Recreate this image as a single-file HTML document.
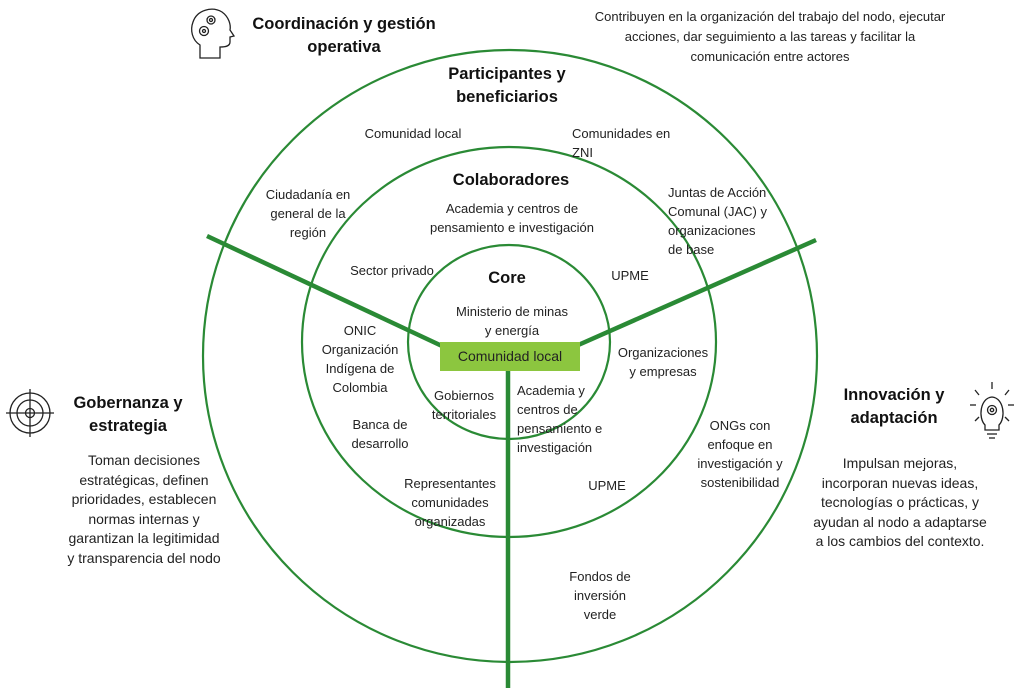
<!DOCTYPE html>
<html><head><meta charset="utf-8"><style>
body{margin:0;width:1024px;height:691px;background:#fff;position:relative;overflow:hidden;font-family:"Liberation Sans",sans-serif;color:#222}
.t{position:absolute;text-align:center;font-size:13px;line-height:19px;transform:translateX(-50%);white-space:nowrap}
.b{font-weight:bold;font-size:16.5px;line-height:23px;color:#111}
svg{position:absolute;left:0;top:0}
</style></head><body>
<svg width="1024" height="691">
<g fill="none" stroke="#2a8a35" stroke-width="2.2">
<ellipse cx="510" cy="356" rx="307" ry="306"/>
<ellipse cx="509" cy="342" rx="207" ry="195"/>
<ellipse cx="509" cy="342" rx="101" ry="97"/>
</g>
<g stroke="#2a8a35" stroke-width="4.5" fill="none">
<line x1="207" y1="236" x2="442" y2="346"/>
<line x1="816" y1="240" x2="576" y2="346"/>
<line x1="508" y1="356" x2="508" y2="688"/>
</g>
<rect x="440" y="342" width="140" height="29" fill="#8cc63f"/>
<g fill="none" stroke="#222" stroke-width="1.3">
<path d="M200 58 L200 45 C192 40 190 30 193 22 C197 10 212 6 222 12 C229 17 231 25 230 30 L234 36 L230 37 L230 42 C230 46 226 47 220 47 L220 58 Z"/>
<circle cx="211" cy="20" r="4"/><circle cx="211" cy="20" r="1.5"/>
<circle cx="204" cy="31" r="4.5"/><circle cx="204" cy="31" r="1.5"/>
</g>
<g fill="none" stroke="#222" stroke-width="1.3">
<circle cx="30" cy="413" r="20"/><circle cx="30" cy="413" r="13"/><circle cx="30" cy="413" r="4.5"/>
<line x1="30" y1="389" x2="30" y2="437"/><line x1="6" y1="413" x2="54" y2="413"/>
</g>
<g fill="none" stroke="#222" stroke-width="1.3">
<path d="M985 425 C978 418 980 398 992 397 C1004 398 1006 418 999 425 L999 430 L985 430 Z"/>
<line x1="987" y1="434" x2="997" y2="434"/><line x1="989" y1="438" x2="995" y2="438"/>
<circle cx="992" cy="410" r="4.5"/><circle cx="992" cy="410" r="1.7"/>
<line x1="992" y1="382" x2="992" y2="389"/><line x1="975" y1="390" x2="979" y2="395"/><line x1="1009" y1="390" x2="1005" y2="395"/>
<line x1="970" y1="405" x2="976" y2="405"/><line x1="1008" y1="405" x2="1014" y2="405"/>
<line x1="975" y1="421" x2="979" y2="417"/><line x1="1009" y1="421" x2="1005" y2="417"/>
</g>
</svg>
<div class="t b" style="left:344px;top:13px">Coordinación y gestión<br>operativa</div>
<div class="t" style="left:770px;top:7px;line-height:20px">Contribuyen en la organización del trabajo del nodo, ejecutar<br>acciones, dar seguimiento a las tareas y facilitar la<br>comunicación entre actores</div>
<div class="t b" style="left:507px;top:63px">Participantes y<br>beneficiarios</div>
<div class="t" style="left:413px;top:124px">Comunidad local</div>
<div class="t" style="left:572px;top:124px;transform:none;text-align:left">Comunidades en<br>ZNI</div>
<div class="t" style="left:308px;top:185px">Ciudadanía en<br>general de la<br>región</div>
<div class="t b" style="left:511px;top:169px">Colaboradores</div>
<div class="t" style="left:512px;top:199px">Academia y centros de<br>pensamiento e investigación</div>
<div class="t" style="left:668px;top:183px;transform:none;text-align:left">Juntas de Acción<br>Comunal (JAC) y<br>organizaciones<br>de base</div>
<div class="t" style="left:392px;top:261px">Sector privado</div>
<div class="t b" style="left:507px;top:267px">Core</div>
<div class="t" style="left:630px;top:266px">UPME</div>
<div class="t" style="left:512px;top:302px">Ministerio de minas<br>y energía</div>
<div class="t" style="left:360px;top:321px">ONIC<br>Organización<br>Indígena de<br>Colombia</div>
<div class="t" style="left:510px;top:347px;font-size:14px">Comunidad local</div>
<div class="t" style="left:663px;top:343px">Organizaciones<br>y empresas</div>
<div class="t" style="left:464px;top:386px">Gobiernos<br>territoriales</div>
<div class="t" style="left:517px;top:381px;transform:none;text-align:left">Academia y<br>centros de<br>pensamiento e<br>investigación</div>
<div class="t" style="left:380px;top:415px">Banca de<br>desarrollo</div>
<div class="t" style="left:740px;top:416px">ONGs con<br>enfoque en<br>investigación y<br>sostenibilidad</div>
<div class="t" style="left:450px;top:474px">Representantes<br>comunidades<br>organizadas</div>
<div class="t" style="left:607px;top:476px">UPME</div>
<div class="t" style="left:600px;top:567px">Fondos de<br>inversión<br>verde</div>
<div class="t b" style="left:128px;top:392px">Gobernanza y<br>estrategia</div>
<div class="t" style="left:144px;top:451px;font-size:14px;line-height:19.5px">Toman decisiones<br>estratégicas, definen<br>prioridades, establecen<br>normas internas y<br>garantizan la legitimidad<br>y transparencia del nodo</div>
<div class="t b" style="left:894px;top:384px">Innovación y<br>adaptación</div>
<div class="t" style="left:900px;top:454px;font-size:14px;line-height:19.5px">Impulsan mejoras,<br>incorporan nuevas ideas,<br>tecnologías o prácticas, y<br>ayudan al nodo a adaptarse<br>a los cambios del contexto.</div>
</body></html>
